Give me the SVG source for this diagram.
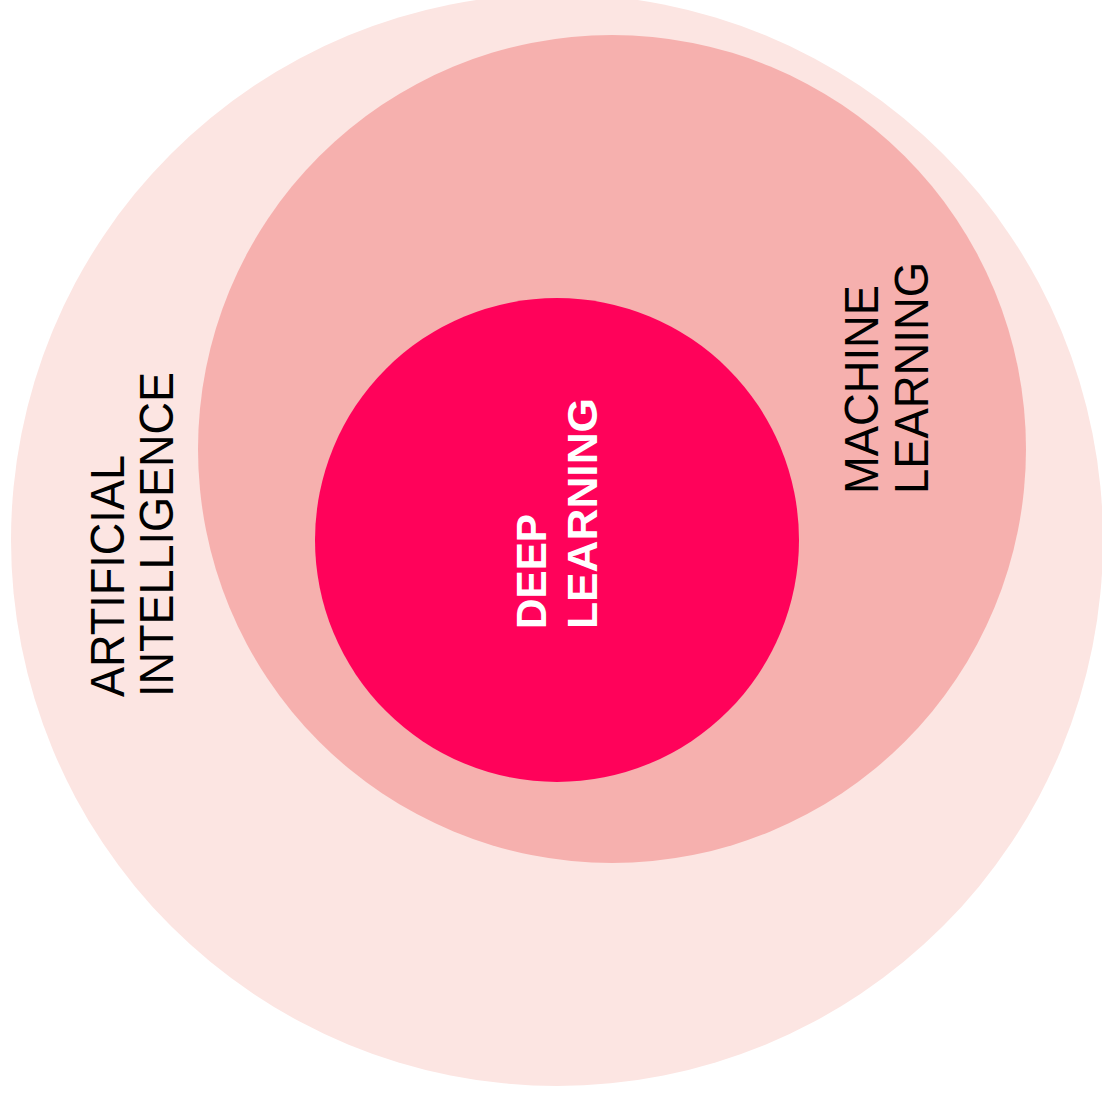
<svg xmlns="http://www.w3.org/2000/svg" width="1102" height="1099" viewBox="0 0 1102 1099">
<style>
.lbl{font-family:"Liberation Sans",Arial,sans-serif;font-size:49px;fill:#000}
.dl{font-family:"Liberation Sans",Arial,sans-serif;font-size:43px;font-weight:bold;fill:#fff}
</style>
<rect width="1102" height="1099" fill="#fff"/>
<g id="ai">
<circle cx="557" cy="540" r="546" fill="#FCE5E2"/>
<text class="lbl" transform="translate(124,697) rotate(-90)" textLength="242" lengthAdjust="spacingAndGlyphs">ARTIFICIAL</text>
<text class="lbl" transform="translate(173,697) rotate(-90)" textLength="325" lengthAdjust="spacingAndGlyphs">INTELLIGENCE</text>
</g>
<g id="ml">
<circle cx="612" cy="449" r="414" fill="#F6B0AE"/>
<text class="lbl" transform="translate(878,494) rotate(-90)" textLength="209" lengthAdjust="spacingAndGlyphs">MACHINE</text>
<text class="lbl" transform="translate(928,494) rotate(-90)" textLength="232" lengthAdjust="spacingAndGlyphs">LEARNING</text>
</g>
<g id="dl">
<circle cx="557" cy="540" r="242" fill="#FF025A"/>
<text class="dl" transform="translate(546,629) rotate(-90)" textLength="115" lengthAdjust="spacingAndGlyphs">DEEP</text>
<text class="dl" transform="translate(597,629) rotate(-90)" textLength="231" lengthAdjust="spacingAndGlyphs">LEARNING</text>
</g>
<g id="connectors"/>
</svg>
